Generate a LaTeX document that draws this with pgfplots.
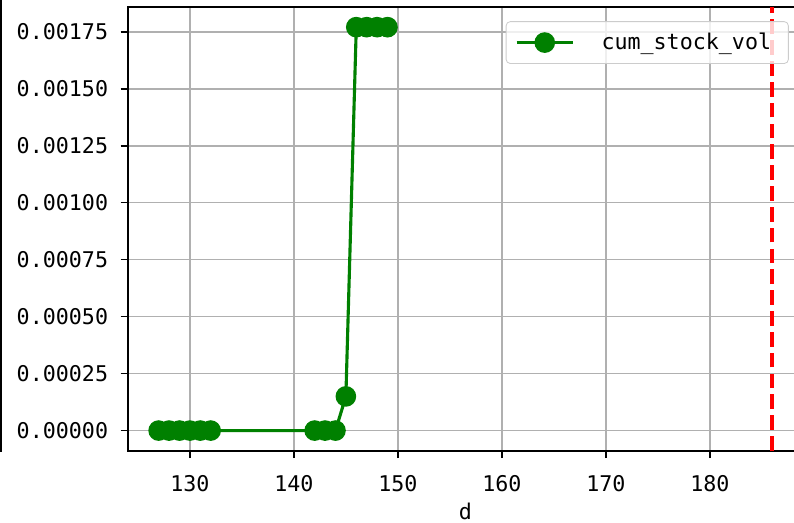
\documentclass[border=0pt]{standalone}
\usepackage{fontspec}
\setmainfont{DejaVu Sans Mono}
\usepackage{pgfplots}
\pgfplotsset{compat=1.18}
\definecolor{mplgreen}{HTML}{008000}
\definecolor{gridgray}{HTML}{B0B0B0}
\definecolor{legframe}{HTML}{CCCCCC}
\begin{document}
\fontsize{10.4}{12.5}\selectfont
\begin{tikzpicture}
\begin{axis}[
    scale only axis,
    width=324pt, height=213pt,
    xmin=124.05, xmax=188.95,
    ymin=-0.0000885, ymax=0.0018585,
    xtick={130,140,150,160,170,180},
    ytick={0,0.00025,0.0005,0.00075,0.001,0.00125,0.0015,0.00175},
    grid=major,
    grid style={gridgray, line width=0.8pt},
    axis line style={line width=0.8pt},
    tick align=outside, tick pos=left,
    major tick length=3.5pt,
    tick style={black, line width=0.8pt},
    scaled y ticks=false,
    yticklabel style={xshift=-2.4pt, /pgf/number format/.cd, fixed, fixed zerofill, precision=5, assume math mode=true},
    xticklabel style={yshift=-4.8pt, /pgf/number format/assume math mode=true},
    xlabel={d},
    xlabel style={yshift=2pt},
    clip=false,
    legend cell align=left,
    legend image code/.code={
      \draw[#1, mark=none, opacity=1] (0pt,0pt) -- (27pt,0pt);
      \draw[#1, opacity=1] plot coordinates {(13.5pt,0pt)};
    },
    legend style={
      at={(0.979,0.968)}, anchor=north east,
      draw=legframe, rounded corners=2pt,
      fill=white, fill opacity=0.8, text opacity=1, draw opacity=1,
      inner xsep=4.3pt, inner ysep=3pt,
      nodes={inner xsep=0pt, inner ysep=2.3pt},
      /tikz/every odd column/.append style={column sep=13pt},
    },
]
\addplot[mplgreen, line width=1.5pt, mark=*, mark size=4.2pt,
         mark options={solid, fill=mplgreen, draw=mplgreen}] coordinates {
  (127,0) (128,0) (129,0) (130,0) (131,0) (132,0)
  (142,0) (143,0) (144,0)
  (145,0.00015)
  (146,0.00177) (147,0.00177) (148,0.00177) (149,0.00177)
};
\addlegendentry{cum\_stock\_vol\kern4pt}
\addplot[red, line width=1.8pt, dash pattern=on 7pt off 3pt, forget plot] coordinates {
  (186,-0.0000885) (186,0.0018585)
};
\draw[black, line width=1pt] (rel axis cs:-0.1875,-0.002) -- (rel axis cs:-0.1875,1.02);
\coordinate (bbbl) at (rel axis cs:-0.1896,-0.1622);
\coordinate (bbtr) at (rel axis cs:0.9867,1.0158);
\end{axis}
\pgfresetboundingbox
\useasboundingbox (bbbl) rectangle (bbtr);
\end{tikzpicture}
\end{document}
